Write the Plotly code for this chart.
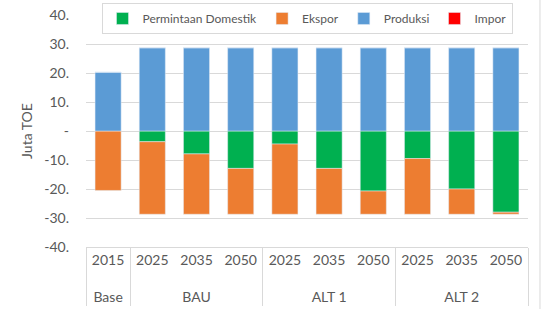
import plotly.graph_objects as go

groups = ["Base", "BAU", "BAU", "BAU", "ALT 1", "ALT 1", "ALT 1", "ALT 2", "ALT 2", "ALT 2"]
years = ["2015", "2025", "2035", "2050", "2025", "2035", "2050", "2025", "2035", "2050"]

domestik = [0, -3.7, -7.9, -12.9, -4.5, -12.9, -20.7, -9.5, -20.0, -28.0]
ekspor = [-20.5, -25.0, -20.8, -15.8, -24.2, -15.8, -8.0, -19.2, -8.7, -0.7]
produksi = [20.3, 28.7, 28.7, 28.7, 28.7, 28.7, 28.7, 28.7, 28.7, 28.7]
impor = [0, 0, 0, 0, 0, 0, 0, 0, 0, 0]

tick_vals = [40, 30, 20, 10, 0, -10, -20, -30, -40]
tick_text = ["40.", "30.", "20.", "10.", "-", "-10.", "-20.", "-30.", "-40."]

FONT = "Lato"
GRAY = "#595959"
GRID = "#D9D9D9"

# extra blank line under each year widens the gap to the group row
year_labels = [y + "<br>&nbsp;" for y in years]
x = [groups, year_labels]

fig = go.Figure()
fig.add_trace(go.Bar(x=x, y=domestik, name="Permintaan Domestik", marker_color="#00B050"))
fig.add_trace(go.Bar(x=x, y=ekspor, name="Ekspor", marker_color="#ED7D31"))
fig.add_trace(go.Bar(x=x, y=produksi, name="Produksi", marker_color="#5B9BD5"))
fig.add_trace(go.Bar(x=x, y=impor, name="Impor", marker_color="#FF0000"))

fig.update_layout(
    width=546, height=309,
    margin=dict(l=86, r=18, t=15, b=62, autoexpand=False),
    barmode="relative",
    bargap=0.41,
    plot_bgcolor="white",
    paper_bgcolor="white",
    font=dict(family=FONT, size=14, color=GRAY),
    legend=dict(
        orientation="h",
        x=0.5, xanchor="center",
        y=0.985, yanchor="middle",
        bordercolor=GRID, borderwidth=1,
        bgcolor="white",
        font=dict(family=FONT, size=12, color=GRAY),
        traceorder="normal",
        itemwidth=30,
    ),
    yaxis=dict(
        range=[-40, 40],
        tickvals=tick_vals,
        ticktext=tick_text,
        showgrid=True,
        gridcolor=GRID,
        zeroline=True,
        zerolinecolor=GRID,
        zerolinewidth=1,
        title=dict(text="Juta TOE", font=dict(family=FONT, size=14, color=GRAY), standoff=8),
        ticks="",
        ticklabelstandoff=16,
        showline=False,
        tickfont=dict(family=FONT, size=14, color=GRAY),
    ),
    xaxis=dict(
        type="multicategory",
        showline=True,
        linecolor=GRID,
        showdividers=True,
        dividercolor=GRID,
        dividerwidth=1,
        ticks="outside",
        ticklen=14,
        tickcolor="rgba(0,0,0,0)",
        tickfont=dict(family=FONT, size=14, color=GRAY),
    ),
    shapes=[dict(type="line", xref="paper", yref="paper", x0=1.0271, x1=1.0271, y0=-0.28, y1=1.07,
                 line=dict(color=GRID, width=1))],
)

fig.write_html("out.html")
